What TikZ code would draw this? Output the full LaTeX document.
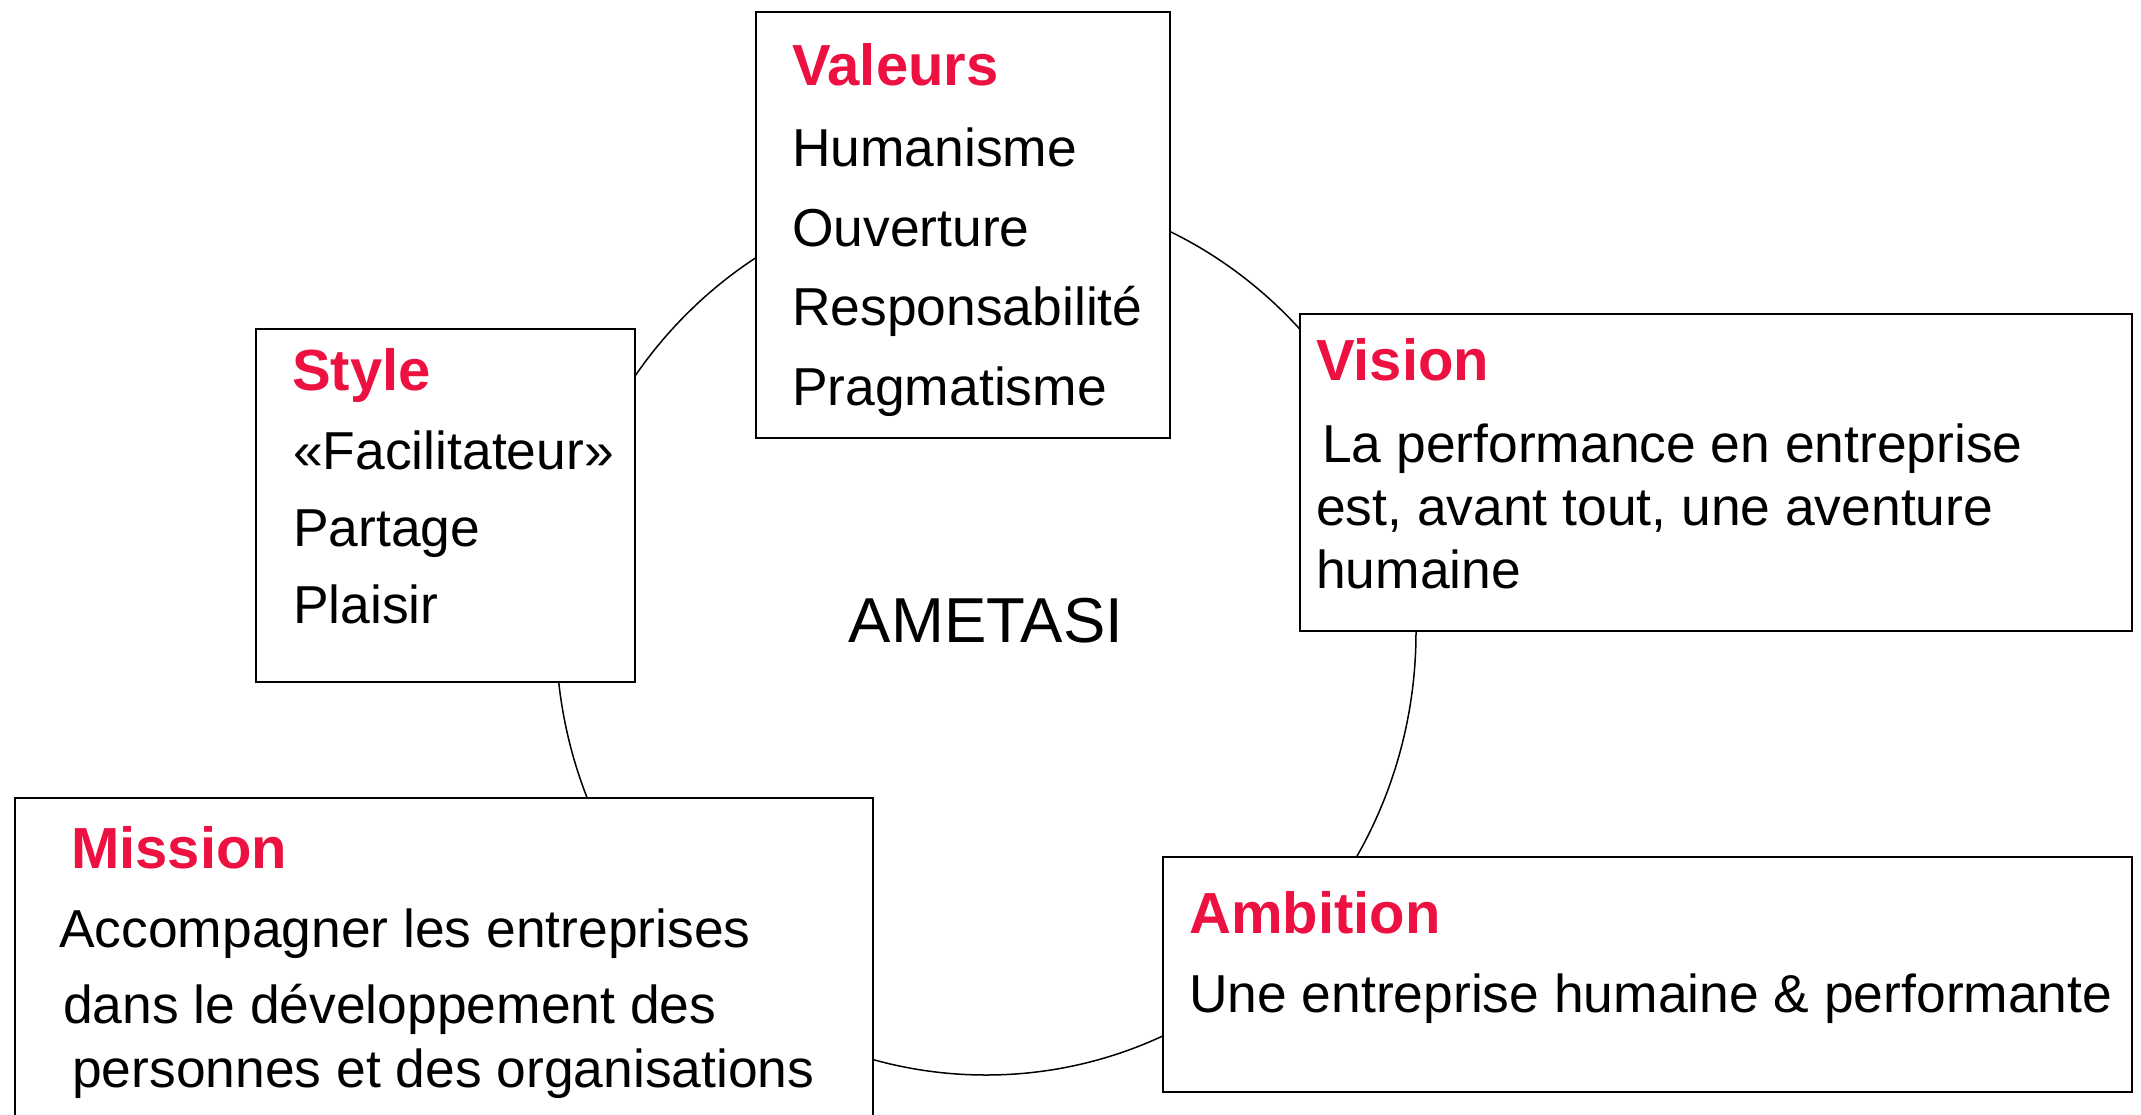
\documentclass[tikz,border=0pt]{standalone}
\usepackage{fontspec}
\setmainfont{Liberation Sans}
\usetikzlibrary{shapes.geometric}
\definecolor{headred}{RGB}{237,17,66}
\tikzset{
  box/.style={draw=black, line width=2pt, fill=white, anchor=north west, inner sep=0pt},
  ring/.style={draw=black, line width=1.5pt, ellipse, inner sep=0pt},
  head/.style={anchor=base west, inner sep=0pt, text=headred, font=\fontsize{58}{58}\selectfont\bfseries},
  body/.style={anchor=base west, inner sep=0pt, text=black, font=\fontsize{53.4}{53.4}\selectfont},
}
\begin{document}
\begin{tikzpicture}[x=1pt,y=-1pt]
\useasboundingbox (0,0) rectangle (2141,1114);
\clip (0,0) rectangle (2141,1114);
\fill[white] (0,0) rectangle (2141,1114);
% ring
\node[ring, minimum width=860pt, minimum height=886pt] (cycle) at (986,632) {};
% boxes
\node[box, minimum width=414pt, minimum height=426pt] (valeurs) at (755,11) {};
\node[box, minimum width=379pt, minimum height=353pt] (style) at (255,328) {};
\node[box, minimum width=832pt, minimum height=317pt] (vision) at (1299,313) {};
\node[box, minimum width=969pt, minimum height=235pt] (ambition) at (1162,856) {};
\node[box, minimum width=858pt, minimum height=360pt] (mission) at (14,797) {};
% centre
\node[anchor=base, inner sep=0pt, font=\fontsize{63.5}{63.5}\selectfont] (ametasi) at (986,642) {AMETASI};
% Valeurs
\node[head] (vh) at (792,85) {Valeurs};
\node[body] (v1) at (792,166) {Humanisme};
\node[body] (v2) at (792,246) {Ouverture};
\node[body] (v3) at (792,325) {Responsabilité};
\node[body] (v4) at (792,405) {Pragmatisme};
% Style
\node[head] (sh) at (292,390) {Style};
\node[body] (s1) at (293,469) {«Facilitateur»};
\node[body] (s2) at (293,546) {Partage};
\node[body] (s3) at (293,623) {Plaisir};
% Vision
\node[head] (vih) at (1316,380) {Vision};
\node[body] (vi1) at (1322,462) {La performance en entreprise};
\node[body] (vi2) at (1316,525) {est, avant tout, une aventure};
\node[body] (vi3) at (1316,588) {humaine};
% Mission
\node[head] (mh) at (71,868) {Mission};
\node[body] (m1) at (59,947) {Accompagner les entreprises};
\node[body] (m2) at (63,1023) {dans le développement des};
\node[body] (m3) at (72,1087) {personnes et des organisations};
% Ambition
\node[head] (ah) at (1189,933) {Ambition};
\node[body] (a1) at (1189,1012) {Une entreprise humaine \& performante};
\end{tikzpicture}
\end{document}
